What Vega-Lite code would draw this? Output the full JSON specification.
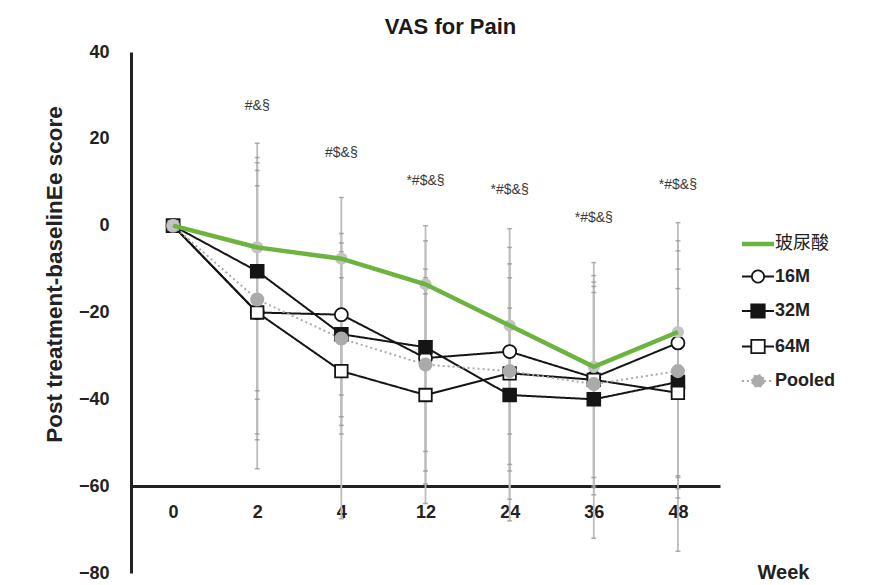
{
  "$schema": "https://vega.github.io/schema/vega-lite/v6.json",
  "autosize": "none",
  "width": 589,
  "height": 521,
  "padding": {"left": 131, "top": 52, "right": 149, "bottom": 12},
  "background": "white",
  "title": {"text": "VAS for Pain", "fontSize": 22, "fontWeight": "bold", "font": "Liberation Sans", "color": "#1a1a1a", "offset": 4, "dx": 25, "anchor": "middle"},
  "config": {
    "view": {"stroke": null},
    "axis": {"grid": false, "labelFont": "Liberation Sans", "titleFont": "Liberation Sans"},
    "legend": {"labelFont": "Liberation Sans, Noto Sans CJK SC"},
    "text": {"font": "Liberation Sans"}
  },
  "datasets": {
    "d": [
      {"week": "0", "series": "玻尿酸", "mean": 0, "lo": null, "hi": null},
      {"week": "0", "series": "16M", "mean": 0, "lo": null, "hi": null},
      {"week": "0", "series": "32M", "mean": 0, "lo": null, "hi": null},
      {"week": "0", "series": "64M", "mean": 0, "lo": null, "hi": null},
      {"week": "0", "series": "Pooled", "mean": 0, "lo": null, "hi": null},
      {"week": "2", "series": "玻尿酸", "mean": -5, "lo": -40, "hi": 19},
      {"week": "2", "series": "16M", "mean": -20, "lo": -49.3, "hi": 12.7},
      {"week": "2", "series": "32M", "mean": -10.5, "lo": -38, "hi": 15.7},
      {"week": "2", "series": "64M", "mean": -20, "lo": -56, "hi": 9.2},
      {"week": "2", "series": "Pooled", "mean": -17, "lo": -48, "hi": 14.5},
      {"week": "4", "series": "玻尿酸", "mean": -7.6, "lo": -39, "hi": 6.5},
      {"week": "4", "series": "16M", "mean": -20.5, "lo": -44, "hi": -1.8},
      {"week": "4", "series": "32M", "mean": -25, "lo": -48, "hi": -4},
      {"week": "4", "series": "64M", "mean": -33.5, "lo": -67.5, "hi": -12},
      {"week": "4", "series": "Pooled", "mean": -26, "lo": -46, "hi": -6},
      {"week": "12", "series": "玻尿酸", "mean": -13.5, "lo": -30, "hi": 0},
      {"week": "12", "series": "16M", "mean": -30.5, "lo": -56.5, "hi": -10},
      {"week": "12", "series": "32M", "mean": -28, "lo": -59.5, "hi": -3.5},
      {"week": "12", "series": "64M", "mean": -39, "lo": -64, "hi": -15.7},
      {"week": "12", "series": "Pooled", "mean": -32, "lo": -52, "hi": -12},
      {"week": "24", "series": "玻尿酸", "mean": -23, "lo": -48, "hi": -0.7},
      {"week": "24", "series": "16M", "mean": -29, "lo": -56.5, "hi": -5},
      {"week": "24", "series": "32M", "mean": -39, "lo": -63, "hi": -19},
      {"week": "24", "series": "64M", "mean": -34, "lo": -68, "hi": -8.8},
      {"week": "24", "series": "Pooled", "mean": -33.5, "lo": -55, "hi": -12},
      {"week": "36", "series": "玻尿酸", "mean": -32.5, "lo": -60.3, "hi": -8.5},
      {"week": "36", "series": "16M", "mean": -35, "lo": -58, "hi": -11.5},
      {"week": "36", "series": "32M", "mean": -40, "lo": -72, "hi": -15.4},
      {"week": "36", "series": "64M", "mean": -35.5, "lo": -62, "hi": -13},
      {"week": "36", "series": "Pooled", "mean": -36.5, "lo": -60, "hi": -14},
      {"week": "48", "series": "玻尿酸", "mean": -24.5, "lo": -57.6, "hi": 0.7},
      {"week": "48", "series": "16M", "mean": -27, "lo": -60.6, "hi": -3.5},
      {"week": "48", "series": "32M", "mean": -36, "lo": -62.7, "hi": -14.5},
      {"week": "48", "series": "64M", "mean": -38.5, "lo": -75, "hi": -5.8},
      {"week": "48", "series": "Pooled", "mean": -33.5, "lo": -58, "hi": -10}
    ],
    "ann": [
      {"week": "2", "label": "#&§", "y": 27.6},
      {"week": "4", "label": "#$&§", "y": 16.8},
      {"week": "12", "label": "*#$&§", "y": 10.4},
      {"week": "24", "label": "*#$&§", "y": 8.1},
      {"week": "36", "label": "*#$&§", "y": 1.8},
      {"week": "48", "label": "*#$&§", "y": 9.4}
    ]
  },
  "encoding": {
    "x": {
      "field": "week", "type": "ordinal",
      "sort": ["0", "2", "4", "12", "24", "36", "48"],
      "scale": {"type": "point", "padding": 0.5, "domain": ["0", "2", "4", "12", "24", "36", "48"]},
      "axis": {
        "title": "Week", "offset": -87, "domain": true, "domainColor": "#222", "domainWidth": 3,
        "ticks": false, "tickSize": 0, "labelPadding": 17, "labelFontSize": 18, "labelFontWeight": "bold",
        "labelColor": "#222", "labelAngle": 0,
        "titleFontSize": 20, "titleFontWeight": "bold", "titleColor": "#222",
        "titleX": 652, "titleY": 86, "titleAlign": "center", "titleBaseline": "middle"
      }
    }
  },
  "layer": [
    {
      "data": {"name": "d"},
      "transform": [{"filter": "datum.lo != null"}],
      "mark": {"type": "rule", "color": "#BDBDBD", "strokeWidth": 1.8},
      "encoding": {
        "y": {
          "field": "lo", "type": "quantitative",
          "scale": {"domain": [-80, 40], "nice": false, "zero": false},
          "axis": {
            "values": [-80, -60, -40, -20, 0, 20, 40], "title": "Post treatment-baselinEe score",
            "domainColor": "#222", "domainWidth": 3, "ticks": false, "tickSize": 0,
            "labelPadding": 22, "labelFontSize": 18, "labelFontWeight": "bold", "labelColor": "#222",
            "titleFontSize": 22.5, "titleFontWeight": "bold", "titleColor": "#222",
            "titleX": -77, "titleY": 222, "titleAlign": "center", "titleBaseline": "middle", "titleAngle": -90
          }
        },
        "y2": {"field": "hi"}
      }
    },
    {
      "data": {"name": "d"},
      "transform": [{"filter": "datum.lo != null"}],
      "mark": {"type": "tick", "orient": "horizontal", "size": 5, "thickness": 1.5, "color": "#8E8E8E"},
      "encoding": {"y": {"field": "lo", "type": "quantitative"}}
    },
    {
      "data": {"name": "d"},
      "transform": [{"filter": "datum.lo != null"}],
      "mark": {"type": "tick", "orient": "horizontal", "size": 5, "thickness": 1.5, "color": "#8E8E8E"},
      "encoding": {"y": {"field": "hi", "type": "quantitative"}}
    },
    {
      "data": {"name": "ann"},
      "mark": {"type": "text", "fontSize": 14, "color": "#3a3a3a", "baseline": "middle", "align": "center"},
      "encoding": {
        "y": {"field": "y", "type": "quantitative"},
        "text": {"field": "label"}
      }
    },
    {
      "data": {"name": "d"},
      "transform": [{"filter": "datum.series != '玻尿酸'"}],
      "mark": {"type": "line", "strokeWidth": 2},
      "encoding": {
        "y": {"field": "mean", "type": "quantitative"},
        "color": {
          "field": "series", "type": "nominal",
          "scale": {"domain": ["玻尿酸", "16M", "32M", "64M", "Pooled"], "range": ["#6DB33F", "#151515", "#151515", "#151515", "#ABABAB"]},
          "legend": {
            "title": null, "orient": "none", "legendX": 618, "legendY": 183, "padding": 0,
            "symbolSize": 1024, "rowPadding": 13.5, "labelOffset": 8,
            "labelFontSize": 18, "labelFontWeight": "bold", "labelColor": "#222",
            "encode": {
              "symbols": {
                "update": {
                  "shape": {"signal": "datum.value === '玻尿酸' ? 'M-1,0L1,0' : (datum.value === '16M' || datum.value === 'Pooled') ? 'M-1,0L-0.38,0M0.38,0L1,0M-0.38,0A0.38,0.38,0,1,1,0.38,0A0.38,0.38,0,1,1,-0.38,0Z' : 'M-1,0L-0.42,0M0.42,0L1,0M-0.42,-0.42L0.42,-0.42L0.42,0.42L-0.42,0.42Z'"},
                  "size": {"value": 1024},
                  "fill": {"signal": "datum.value === '32M' ? '#151515' : datum.value === 'Pooled' ? '#ABABAB' : datum.value === '玻尿酸' ? 'transparent' : '#ffffff'"},
                  "stroke": {"signal": "datum.value === '玻尿酸' ? '#6DB33F' : datum.value === 'Pooled' ? '#ABABAB' : '#151515'"},
                  "strokeWidth": {"signal": "datum.value === '玻尿酸' ? 4.5 : 1.8"},
                  "strokeDash": {"signal": "datum.value === 'Pooled' ? [2, 2] : [1, 0]"},
                  "opacity": {"value": 1},
                  "fillOpacity": {"value": 1},
                  "strokeOpacity": {"value": 1}
                }
              },
              "labels": {
                "update": {
                  "fontWeight": {"signal": "datum.value === '玻尿酸' ? 'normal' : 'bold'"}
                }
              }
            }
          }
        },
        "strokeDash": {
          "field": "series", "type": "nominal",
          "scale": {"domain": ["玻尿酸", "16M", "32M", "64M", "Pooled"], "range": [[1, 0], [1, 0], [1, 0], [1, 0], [2, 3]]},
          "legend": null
        }
      }
    },
    {
      "data": {"name": "d"},
      "transform": [{"filter": "datum.series != '玻尿酸'"}],
      "mark": {"type": "point", "filled": true, "strokeWidth": 1.8, "opacity": 1},
      "encoding": {
        "y": {"field": "mean", "type": "quantitative"},
        "shape": {"field": "series", "type": "nominal", "scale": {"domain": ["16M", "32M", "64M", "Pooled"], "range": ["circle", "square", "square", "circle"]}, "legend": null},
        "fill": {"field": "series", "type": "nominal", "scale": {"domain": ["16M", "32M", "64M", "Pooled"], "range": ["#ffffff", "#151515", "#ffffff", "#ABABAB"]}, "legend": null},
        "stroke": {"field": "series", "type": "nominal", "scale": {"domain": ["16M", "32M", "64M", "Pooled"], "range": ["#151515", "#151515", "#151515", "#ABABAB"]}, "legend": null},
        "size": {"field": "series", "type": "nominal", "scale": {"domain": ["16M", "32M", "64M", "Pooled"], "range": [170, 150, 200, 150]}, "legend": null}
      }
    },
    {
      "data": {"name": "d"},
      "transform": [{"filter": "datum.series == '玻尿酸'"}],
      "mark": {"type": "point", "filled": true, "shape": "circle", "size": 150, "color": "#C4C4C4", "opacity": 1},
      "encoding": {"y": {"field": "mean", "type": "quantitative"}}
    },
    {
      "data": {"name": "d"},
      "transform": [{"filter": "datum.series == '玻尿酸'"}],
      "mark": {"type": "line", "strokeWidth": 4.5},
      "encoding": {
        "y": {"field": "mean", "type": "quantitative"},
        "color": {"field": "series", "type": "nominal"}
      }
    }
  ]
}
